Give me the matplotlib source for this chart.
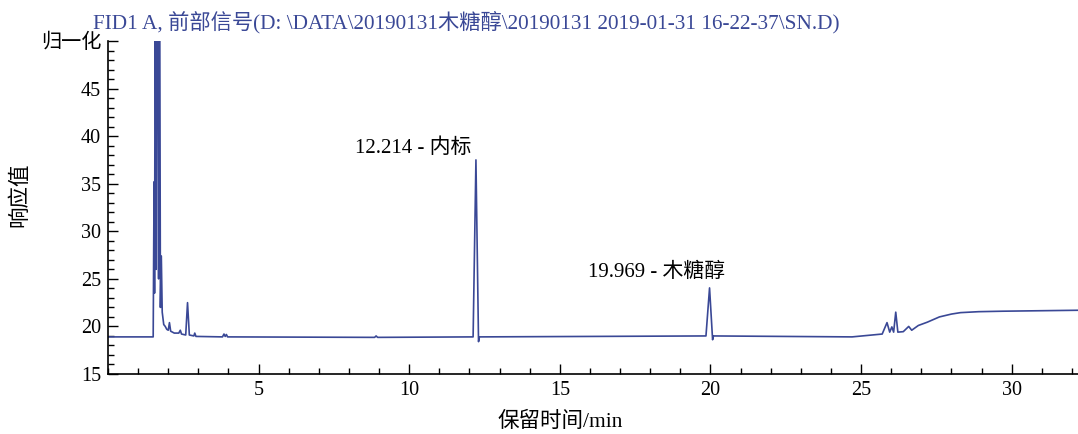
import matplotlib.pyplot as plt
from matplotlib.ticker import MultipleLocator

plt.rcParams['font.family'] = ['Liberation Serif', 'Noto Sans CJK SC']

# FID1 A trace: retention time (min) and normalised response
rt = [0.00, 1.50, 1.52, 1.53, 1.545, 1.57, 1.60, 1.63, 1.66, 1.68, 1.71, 1.74,
      1.77, 1.80, 1.85, 1.90, 1.95, 2.00, 2.04, 2.08, 2.20, 2.35, 2.40, 2.44,
      2.58, 2.64, 2.70, 2.85, 2.88, 2.92, 3.80, 3.85, 3.89, 3.93, 3.97,
      8.85, 8.90, 8.95, 12.12, 12.214, 12.30, 12.33, 19.85, 19.969, 20.07, 20.10,
      24.70, 25.70, 25.86, 25.95, 26.02, 26.08, 26.15, 26.22, 26.40, 26.58,
      26.68, 26.90, 27.20, 27.60, 28.00, 28.30, 28.90, 29.70, 32.20]
signal = [18.9, 18.9, 30.0, 35.2, 23.5, 60.0, 26.0, 80.0, 44.5, 25.0, 65.0, 22.0,
          27.4, 21.5, 20.2, 20.0, 19.7, 19.6, 20.4, 19.5, 19.3, 19.3, 19.6, 19.2,
          19.1, 22.5, 19.1, 19.0, 19.3, 18.95, 18.9, 19.2, 18.95, 19.15, 18.9,
          18.85, 19.0, 18.85, 18.9, 37.5, 18.4, 18.9, 19.0, 24.05, 18.6, 19.0,
          18.9, 19.2, 20.4, 19.4, 19.95, 19.4, 21.5, 19.4, 19.45, 20.0,
          19.6, 20.1, 20.45, 21.0, 21.3, 21.45, 21.55, 21.6, 21.7]

# labelled peaks
peak_rt = [12.214, 19.969]
peak_height = [37.5, 24.05]
peak_name = ['内标', '木糖醇']
label_offset = [(-5, 12), (16, 16)]

yticks = [15, 20, 25, 30, 35, 40, 45, 50]
ytick_labels = ['15', '20', '25', '30', '35', '40', '45', '归一化']
xticks = [5, 10, 15, 20, 25, 30]

title = r'FID1 A, 前部信号(D: \DATA\20190131木糖醇\20190131 2019-01-31 16-22-37\SN.D)'
blue = '#3a4896'

fig = plt.figure(figsize=(10.78, 4.34), dpi=100)
ax = fig.add_axes([108 / 1078, 60 / 434, 970 / 1078, 333 / 434])

ax.plot(rt, signal, color=blue, linewidth=1.2)

for t, h, name, off in zip(peak_rt, peak_height, peak_name, label_offset):
    ax.annotate(f'{t:.3f} - {name}', xy=(t, h), xytext=off,
                textcoords='offset pixels', ha='right', va='center', fontsize=15)

ax.set_xlim(0, 32.2)
ax.set_ylim(15, 50)
ax.set_xticks(xticks)
ax.set_yticks(yticks)
ax.set_yticklabels(ytick_labels)
ax.xaxis.set_minor_locator(MultipleLocator(1))
ax.yaxis.set_minor_locator(MultipleLocator(1))
ax.tick_params(which='both', direction='in', width=1, labelsize=14.5)
ax.tick_params(which='major', length=7)
ax.tick_params(which='minor', length=4)
ax.tick_params(axis='y', pad=5)
ax.tick_params(axis='x', pad=5)

for side in ['top', 'right']:
    ax.spines[side].set_visible(False)
for side in ['left', 'bottom']:
    ax.spines[side].set_linewidth(1.2)

ax.set_ylabel('响应值', fontsize=15.5, va='center')
ax.yaxis.set_label_coords(-0.091, 0.537)
ax.set_xlabel('保留时间/min', fontsize=15.5, va='center')
ax.xaxis.set_label_coords(0.466, -0.144)

fig.text(93 / 1078, 1 - 22 / 434, title, ha='left', va='center',
         fontsize=15.3, color=blue)

fig.savefig('out.png', dpi=100)
